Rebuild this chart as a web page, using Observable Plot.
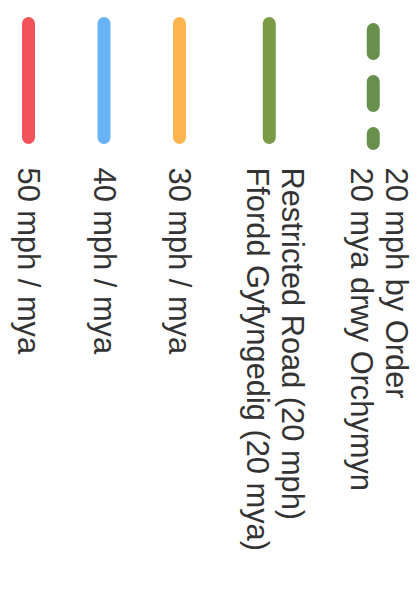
<!DOCTYPE html>
<html>
<head>
<meta charset="utf-8">
<script src="https://cdn.jsdelivr.net/npm/d3@7"></script>
<script src="https://cdn.jsdelivr.net/npm/@observablehq/plot@0.6"></script>
<style>
  html, body { margin: 0; padding: 0; background: #fff; }
  #chart svg { display: block; }
</style>
</head>
<body>
<div id="chart"></div>
<script>
// Legend entries (first = top of the original legend, drawn rightmost after rotation)
const labels = [
  "20 mph by Order\n20 mya drwy Orchymyn",
  "Restricted Road (20 mph)\nFfordd Gyfyngedig (20 mya)",
  "30 mph / mya",
  "40 mph / mya",
  "50 mph / mya"
];
const colors = ["#68904c", "#7b9a45", "#ffb54f", "#66b3f5", "#f2525a"];
const dashed = [true, false, false, false, false];

// Layout (in pixels) — kept in code, not in data
const W = 416, H = 605;
const firstCenter = 28;
const rowH = n => (n === 1 ? 75.5 : 104);
const textShift = n => (n === 1 ? 1 : 6.5);
const SW_TOP = 23.5, SW_BOT = 137.5, TEXT_Y = 167;

const items = labels.map((label, i) => ({
  label, color: colors[i], dashed: dashed[i], lines: label.split("\n").length
}));
let prev = null;
for (let i = items.length - 1; i >= 0; i--) {
  const it = items[i];
  it.cx = prev ? prev.cx + (rowH(prev.lines) + rowH(it.lines)) / 2 : firstCenter;
  it.tx = it.cx + textShift(it.lines);
  prev = it;
}

const chart = Plot.plot({
  width: W,
  height: H,
  margin: 0,
  x: {domain: [0, W], range: [0, W], axis: null},
  y: {domain: [0, H], range: [0, H], axis: null},
  color: {type: "identity"},
  style: {background: "#fff"},
  marks: [
    Plot.ruleX(items.filter(d => !d.dashed), {
      x: "cx", y1: SW_TOP, y2: SW_BOT, stroke: "color",
      strokeWidth: 13, strokeLinecap: "round"
    }),
    Plot.ruleX(items.filter(d => d.dashed), {
      x: "cx", y1: SW_TOP + 6, y2: SW_BOT + 6, stroke: "color",
      strokeWidth: 13, strokeLinecap: "round", strokeDasharray: "24,28"
    }),
    Plot.text(items, {
      x: "tx", y: TEXT_Y, text: "label", rotate: 90,
      textAnchor: "start", lineAnchor: "middle", lineHeight: 1.13,
      fontSize: 30.8, fill: "#333",
      fontFamily: "'Liberation Sans', Arial, sans-serif"
    })
  ]
});
document.getElementById("chart").appendChild(chart);
</script>
</body>
</html>
